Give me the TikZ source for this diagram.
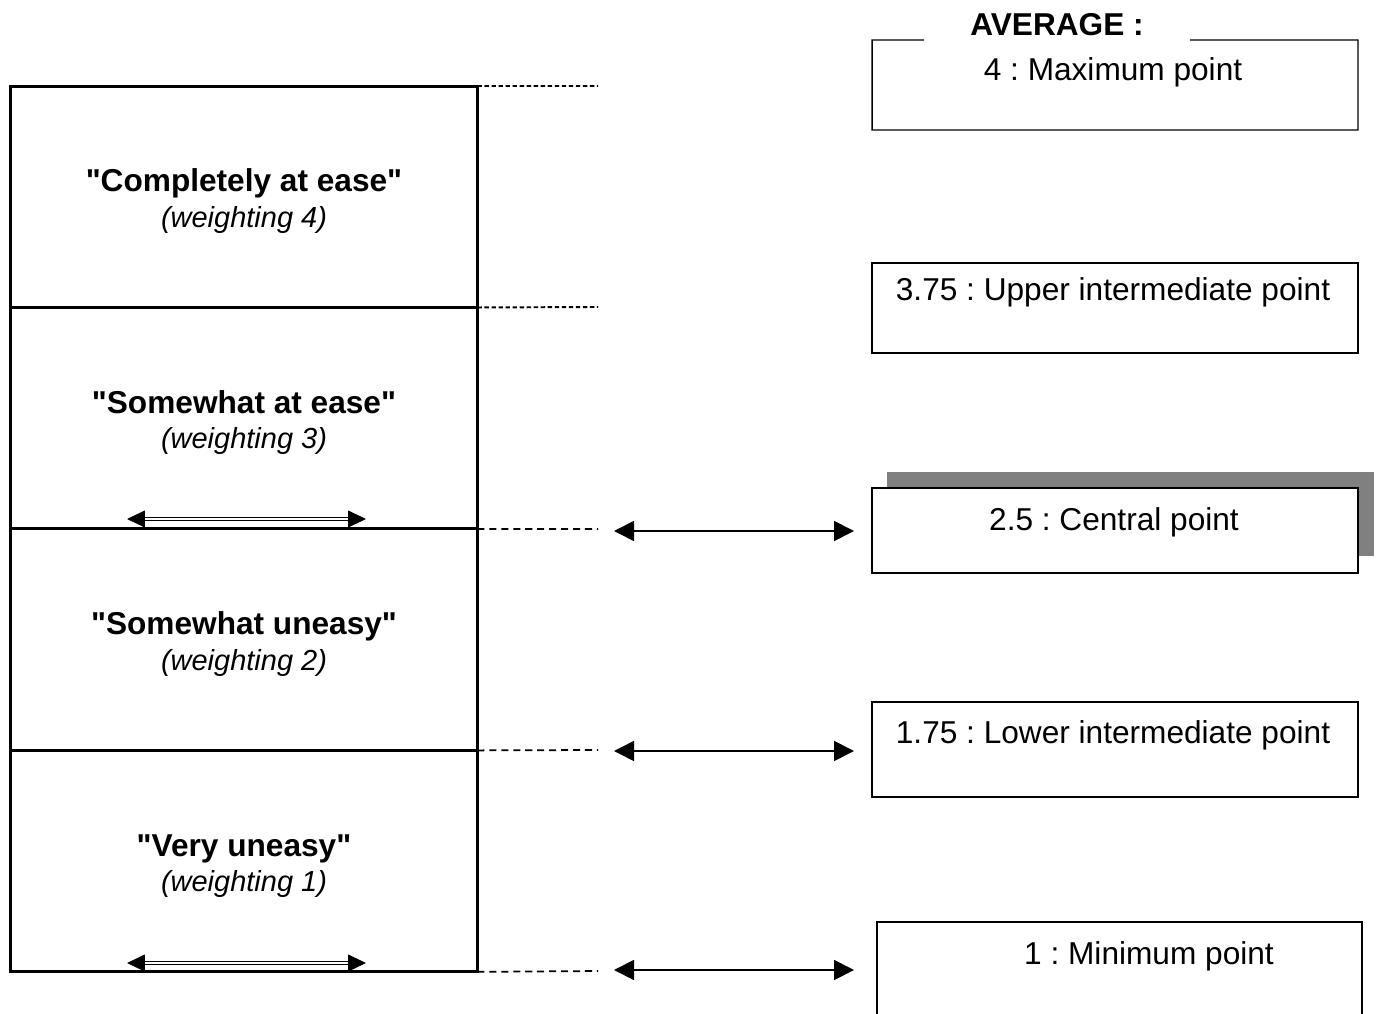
\documentclass[tikz,border=0pt]{standalone}
\usepackage{fontspec}
\setmainfont{Liberation Sans}
\frenchspacing
\usetikzlibrary{arrows.meta, positioning}
\tikzset{
    rowbox/.style={
        rectangle, draw=black, line width=1.7pt,
        minimum width=9.34cm, minimum height=4.43cm,
        outer sep=0pt, inner sep=0pt,
        font=\fontsize{18}{20.4}\selectfont, align=center
    },
    pointbox/.style={
        rectangle, draw=black, line width=0.8pt, fill=white,
        minimum width=9.72cm, minimum height=1.8cm,
        outer sep=0pt, inner sep=0pt
    },
    pointtext/.style={anchor=base, inner sep=0pt, font=\fontsize{18}{21}\selectfont},
    guide/.style={line width=1.1pt, dash pattern=on 2.5pt off 1.5pt},
    guidelong/.style={line width=1pt, dash pattern=on 4pt off 2.8pt},
    twoway/.style={{Triangle[length=4mm, width=4mm]}-{Triangle[length=4mm, width=4mm]}, line width=1pt},
    inway/.style={{Triangle[length=3.6mm, width=3.4mm]}-{Triangle[length=3.6mm, width=3.4mm]}, double, double distance=1.2pt, line width=0.5pt}
}
\newcommand{\answer}[2]{\rule{0pt}{18pt}\textbf{\textquotedbl#1\textquotedbl}\\{\itshape\fontsize{16.5}{20.4}\selectfont (weighting #2)}}

\begin{document}
\begin{tikzpicture}[x=0.02cm, y=-0.02cm]
    \useasboundingbox (0,0) rectangle (1380,1014);

    % answer scale
    \node[rowbox] (ease) at (244,196.75) {\answer{Completely at ease}{4}};
    \node[rowbox, below=0pt of ease] (fair) {\answer{Somewhat at ease}{3}};
    \node[rowbox, below=0pt of fair] (uneasy) {\answer{Somewhat uneasy}{2}};
    \node[rowbox, below=0pt of uneasy] (very) {\answer{Very uneasy}{1}};

    \coordinate (g1) at (598,86);
    \coordinate (g2) at (598,307);
    \coordinate (g3) at (598,529);
    \coordinate (g4) at (598,750);
    \coordinate (g5) at (598,971);
    \draw[guide] (ease.north east) -- (g1);
    \draw[guide] (ease.south east) -- (g2);
    \draw[guidelong] (fair.south east) -- (g3);
    \draw[guidelong] (uneasy.south east) -- (g4);
    \draw[guidelong] (very.south east) -- (g5);

    \coordinate (i1l) at (127,519);
    \coordinate (i1r) at (366,519);
    \coordinate (i2l) at (127,963);
    \coordinate (i2r) at (366,963);
    \draw[inway] (i1l) -- (i1r);
    \draw[inway] (i2l) -- (i2r);

    % average points
    \node[pointbox, draw=none] (maxbox) at (1115,85) {};
    \coordinate (gapl) at (924,40);
    \coordinate (gapr) at (1190,40);
    \draw[line width=0.8pt] (gapl) -- (maxbox.north west) -- (maxbox.south west)
        -- (maxbox.south east) -- (maxbox.north east) -- (gapr);
    \node[pointtext] (avg) at (1057,35) {\bfseries AVERAGE :};
    \node[pointtext] (maxtext) at (1113,80) {4 : Maximum point};

    \node[pointbox] (upbox) at (1115,308) {};
    \node[pointtext] (uptext) at (1113,300) {3.75 : Upper intermediate point};

    \node[pointbox, draw=none, fill=black!50, minimum width=9.74cm, minimum height=1.68cm] (cshadow) at (1130.5,514) {};
    \node[pointbox, minimum height=1.7cm] (cbox) at (1115,530.5) {};
    \node[pointtext] (ctext) at (1114,530) {2.5 : Central point};

    \node[pointbox, minimum height=1.9cm] (lowbox) at (1115,749.5) {};
    \node[pointtext] (lowtext) at (1113,743) {1.75 : Lower intermediate point};

    \node[pointbox, minimum width=9.7cm, minimum height=1.9cm] (minbox) at (1119.5,969.5) {};
    \node[pointtext] (mintext) at (1149,964) {1 : Minimum point};

    \coordinate (a1l) at (614,531);
    \coordinate (a1r) at (854,531);
    \coordinate (a2l) at (614,751);
    \coordinate (a2r) at (854,751);
    \coordinate (a3l) at (614,970);
    \coordinate (a3r) at (854,970);
    \draw[twoway] (a1l) -- (a1r);
    \draw[twoway] (a2l) -- (a2r);
    \draw[twoway] (a3l) -- (a3r);
\end{tikzpicture}
\end{document}
